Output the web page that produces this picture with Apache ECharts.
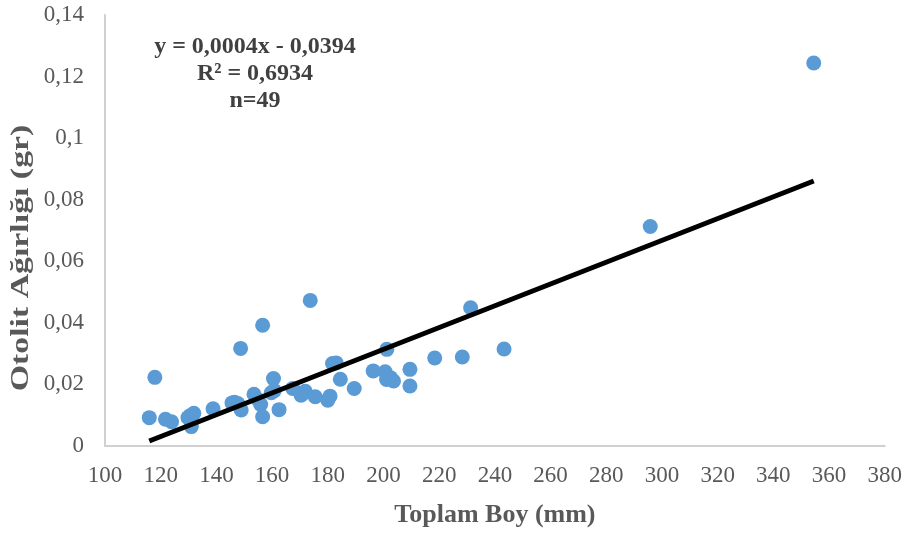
<!DOCTYPE html>
<html>
<head>
<meta charset="utf-8">
<script src="https://cdn.jsdelivr.net/npm/echarts@6/dist/echarts.min.js"></script>
<style>
  html, body { margin: 0; padding: 0; background: #fff; }
  #chart { width: 905px; height: 533px; }
</style>
</head>
<body>
<div id="chart"></div>
<script>
// Total length (mm) of each fish
const toplamBoy = [
  115.9, 117.9, 121.7, 123.9, 129.8, 131.9, 131.0, 130.5, 138.8, 145.6,
  147.7, 148.9, 148.7, 153.5, 156.6, 156.6, 155.9, 160.5, 159.7, 162.5,
  167.4, 170.4, 171.9, 173.7, 175.5, 180.0, 180.8, 181.7, 183.0, 184.5,
  189.5, 196.3, 200.6, 201.2, 201.1, 203.6, 209.5, 209.5, 218.4, 228.3,
  231.3, 243.3, 295.8, 354.5, 155.0, 171.0, 202.5, 146.5, 160.8
];
// Otolith weight (g) of each fish
const otolitAgirligi = [
  0.0092, 0.0223, 0.0087, 0.0079, 0.0092, 0.0106, 0.0063, 0.0098, 0.0121, 0.0140,
  0.0138, 0.0117, 0.0317, 0.0168, 0.0392, 0.0095, 0.0135, 0.0219, 0.0173, 0.0118,
  0.0187, 0.0165, 0.0178, 0.0473, 0.0160, 0.0149, 0.0162, 0.0268, 0.0270, 0.0217,
  0.0187, 0.0244, 0.0241, 0.0314, 0.0216, 0.0211, 0.0249, 0.0195, 0.0286, 0.0289,
  0.0449, 0.0315, 0.0713, 0.1244, 0.0150, 0.0170, 0.0222, 0.0142, 0.0180
];
const denklemSatirlari = ['y = 0,0004x - 0,0394', 'R² = 0,6934', 'n=49'];
const yEkseniBasligi = 'Otolit Ağırlığı (gr)';

// least-squares line through the points
const n = toplamBoy.length;
const mx = toplamBoy.reduce((a, b) => a + b, 0) / n;
const my = otolitAgirligi.reduce((a, b) => a + b, 0) / n;
let sxy = 0, sxx = 0;
for (let i = 0; i < n; i++) {
  sxy += (toplamBoy[i] - mx) * (otolitAgirligi[i] - my);
  sxx += (toplamBoy[i] - mx) * (toplamBoy[i] - mx);
}
const egim = sxy / sxx;
const kesim = my - egim * mx;
const xMin = Math.min(...toplamBoy), xMax = Math.max(...toplamBoy);
const trend = [[xMin, kesim + egim * xMin], [xMax, kesim + egim * xMax]];

const noktalar = toplamBoy.map((x, i) => [x, otolitAgirligi[i]]);

const chart = echarts.init(document.getElementById('chart'));
const serif = '"Liberation Serif", "Times New Roman", serif';
chart.setOption({
  animation: false,
  grid: { left: 105, right: 18, top: 15, bottom: 87 },
  xAxis: {
    type: 'value', min: 100, max: 380, interval: 20,
    name: 'Toplam Boy (mm)', nameLocation: 'middle', nameGap: 56,
    nameTextStyle: { fontFamily: serif, fontSize: 26, fontWeight: 'bold', color: '#595959' },
    axisLine: { show: true, lineStyle: { color: '#D0D0D0', width: 2 } },
    axisTick: { show: false },
    splitLine: { show: false },
    axisLabel: { fontFamily: serif, fontSize: 23, color: '#595959', margin: 18 }
  },
  yAxis: {
    type: 'value', min: 0, max: 0.14, interval: 0.02,
    axisLine: { show: true, lineStyle: { color: '#D0D0D0', width: 2 } },
    axisTick: { show: false },
    splitLine: { show: false },
    axisLabel: {
      fontFamily: serif, fontSize: 23, color: '#595959', margin: 21,
      formatter: v => String(Math.round(v * 100) / 100).replace('.', ',')
    }
  },
  series: [
    {
      type: 'scatter', data: noktalar, symbolSize: 15,
      itemStyle: { color: '#5B9BD5', opacity: 1 }, z: 2
    },
    {
      type: 'line', data: trend, symbol: 'none',
      lineStyle: { color: '#000', width: 5 }, z: 3
    }
  ],
  graphic: [
    {
      type: 'text', x: 255, y: 33,
      style: {
        text: denklemSatirlari.join('\n'),
        fontFamily: serif, fontSize: 24, fontWeight: 'bold', fill: '#404040',
        align: 'center', verticalAlign: 'top', lineHeight: 27
      }
    },
    {
      // vertical axis title, drawn tall and narrow
      type: 'text', x: 21, y: 258, rotation: Math.PI / 2, scaleX: 1.3,
      style: {
        text: yEkseniBasligi,
        fontFamily: serif, fontSize: 26, fontWeight: 'bold', fill: '#595959',
        align: 'center', verticalAlign: 'middle'
      }
    }
  ]
});
</script>
</body>
</html>
